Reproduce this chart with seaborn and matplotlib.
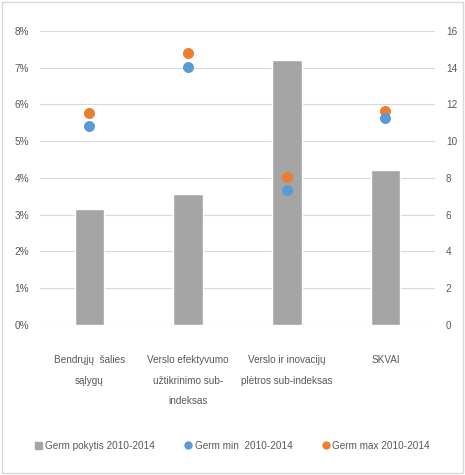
import pandas as pd
import matplotlib.pyplot as plt
import seaborn as sns
from matplotlib.lines import Line2D
from matplotlib.patches import Patch, Rectangle

# data
categories = ["Bendrųjų  šalies\nsąlygų", "Verslo efektyvumo\nužtikrinimo sub-\nindeksas",
              "Verslo ir inovacijų\nplėtros sub-indeksas", "SKVAI"]
pokytis = [6.3, 7.1, 14.4, 8.45]          # right axis
germ_min = [5.40, 7.02, 3.67, 5.63]       # left axis, %
germ_max = [5.77, 7.40, 4.02, 5.82]       # left axis, %
left_ticks = ["0%", "1%", "2%", "3%", "4%", "5%", "6%", "7%", "8%"]
right_ticks = [0, 2, 4, 6, 8, 10, 12, 14, 16]
legend_labels = ["Germ pokytis 2010-2014", "Germ min  2010-2014", "Germ max 2010-2014"]

sns.set_style("white")
plt.rcParams['font.family'] = ['Liberation Sans', 'DejaVu Sans']

gray = "#a5a5a5"
blue = "#5b9bd5"
orange = "#ed7d31"
txt = "#595959"
fs = 7.2

df = pd.DataFrame({"cat": categories, "pokytis": pokytis, "min": germ_min, "max": germ_max})

fig = plt.figure(figsize=(4.65, 4.75), dpi=100)
ax = fig.add_axes([0.086, 0.316, 0.849, 0.619])

sns.barplot(data=df, x="cat", y="pokytis", color=gray, width=0.3, saturation=1, ax=ax, zorder=2)
ax.set_ylim(0, 16)
ax.set_yticks(right_ticks)
ax.grid(axis="y", color="#d9d9d9", lw=0.8, zorder=0)
ax.set_axisbelow(True)

ax2 = ax.twinx()
ax.yaxis.tick_right()
ax2.yaxis.tick_left()
ax2.set_ylim(0, 0.08)
ax2.set_yticks([i / 100 for i in range(9)])
ax2.set_yticklabels(left_ticks)
x = list(range(len(categories)))
ax2.scatter(x, df["max"] / 100, s=48, color=orange, zorder=3)
ax2.scatter(x, df["min"] / 100, s=48, color=blue, zorder=4)

for a in (ax, ax2):
    for s in a.spines.values():
        s.set_visible(False)
    a.tick_params(length=0, labelsize=fs, labelcolor=txt, pad=8)
    a.set_xlabel("")
    a.set_ylabel("")
ax.set_xlim(-0.5, 3.5)
ax.tick_params(axis="x", pad=22)
ax.set_xticks(x)
ax.set_xticklabels(categories, fontsize=fs, color=txt, linespacing=2.3)

handles = [Patch(color=gray),
           Line2D([], [], ls="", marker="o", color=blue, markersize=5),
           Line2D([], [], ls="", marker="o", color=orange, markersize=5)]
fig.legend(handles, legend_labels, loc="center", bbox_to_anchor=(0.5, 0.062), ncol=3,
           frameon=False, fontsize=fs, labelcolor=txt, handlelength=0.7, handletextpad=0.3,
           columnspacing=3.0)

fig.patches.append(Rectangle((0.005, 0.005), 0.99, 0.99, transform=fig.transFigure,
                             fill=False, edgecolor="#d9d9d9", lw=1))

fig.savefig("out.png", dpi=100)
